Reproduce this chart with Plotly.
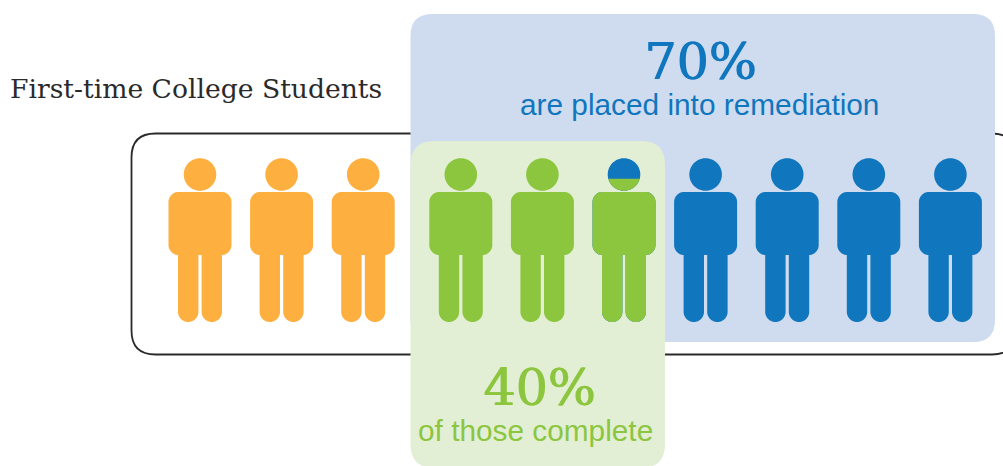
import numpy as np
import plotly.graph_objects as go

# Figures per group, left to right
group_names = ["not placed", "completed", "placed"]
group_counts = [3, 3, 4]
split_figure_green_height = 0.875  # share of the figure's height drawn green on the split person

headline_values = ["70%", "40%"]
headline_captions = ["are placed into remediation", "of those complete"]
title_text = "First-time College Students"

ORANGE = "#fdb03f"
GREEN = "#8cc63f"
BLUE = "#1076bd"
BLUE_PANEL = "#cfdcef"
GREEN_PANEL = "#e3efd4"
INK = "#2a2a2a"

# Figure geometry in page pixels
FIRST_X, STEP_X, GROUP_GAP = 200.0, 81.6, 16.0
HEAD_Y, HEAD_R = 174.5, 16.3
TORSO_HALF, TORSO_TOP, TORSO_BOTTOM, TORSO_R = 31.5, 192.0, 255.0, 10.0
LEG_OFFSET, LEG_HALF, LEG_BOTTOM = 11.8, 10.2, 322.0


def rounded_rect(x0, y0, x1, y1, r, n=24):
    """Closed outline of a rounded rectangle."""
    corners = [(x1 - r, y0 + r, -90), (x1 - r, y1 - r, 0), (x0 + r, y1 - r, 90), (x0 + r, y0 + r, 180)]
    xs, ys = [], []
    for cx, cy, start in corners:
        a = np.radians(np.linspace(start, start + 90, n))
        xs.extend(cx + r * np.cos(a))
        ys.extend(cy + r * np.sin(a))
    return xs + xs[:1], ys + ys[:1]


def circle(cx, cy, r, n=60):
    a = np.linspace(0, 2 * np.pi, n)
    return list(cx + r * np.cos(a)), list(cy + r * np.sin(a))


def circle_below(cx, cy, r, cut_y, n=40):
    """Part of a circle lying below the horizontal line at cut_y."""
    t = np.arcsin((cut_y - cy) / r)
    a = np.linspace(t, np.pi - t, n)
    xs, ys = list(cx + r * np.cos(a)), list(cy + r * np.sin(a))
    return xs + xs[:1], ys + ys[:1]


def body_parts(cx):
    parts = [rounded_rect(cx - TORSO_HALF, TORSO_TOP, cx + TORSO_HALF, TORSO_BOTTOM, TORSO_R)]
    for side in (-1, 1):
        lx = cx + side * LEG_OFFSET
        parts.append(rounded_rect(lx - LEG_HALF, TORSO_BOTTOM - 12, lx + LEG_HALF, LEG_BOTTOM, LEG_HALF - 0.01))
    return parts


def add_parts(fig, parts, color):
    xs, ys = [], []
    for px, py in parts:
        xs += list(px) + [None]
        ys += list(py) + [None]
    fig.add_trace(go.Scatter(x=xs, y=ys, mode="lines", fill="toself", fillcolor=color,
                             line=dict(width=0, color=color, simplify=False),
                             hoverinfo="skip", showlegend=False))


def panel_path(x0, y0, x1, y1, r):
    return (f"M{x0 + r},{y0} L{x1 - r},{y0} Q{x1},{y0} {x1},{y0 + r} L{x1},{y1 - r} Q{x1},{y1} {x1 - r},{y1} "
            f"L{x0 + r},{y1} Q{x0},{y1} {x0},{y1 - r} L{x0},{y0 + r} Q{x0},{y0} {x0 + r},{y0} Z")


centers = [FIRST_X + STEP_X * i + (GROUP_GAP if i >= group_counts[0] else 0.0) for i in range(sum(group_counts))]
orange_idx = range(0, group_counts[0])
green_idx = range(group_counts[0], group_counts[0] + group_counts[1])
blue_idx = range(group_counts[0] + group_counts[1], sum(group_counts))
split_idx = green_idx[-1]
split_y = LEG_BOTTOM - split_figure_green_height * (LEG_BOTTOM - (HEAD_Y - HEAD_R))

fig = go.Figure()

# Orange group
parts = []
for i in orange_idx:
    parts += [circle(centers[i], HEAD_Y, HEAD_R)] + body_parts(centers[i])
add_parts(fig, parts, ORANGE)

# Blue group, plus the split person underneath the green layer
parts = []
for i in list(blue_idx) + [split_idx]:
    parts += [circle(centers[i], HEAD_Y, HEAD_R)] + body_parts(centers[i])
add_parts(fig, parts, BLUE)

# Green group; the last head is green only below the split line
parts = []
for i in green_idx:
    if i == split_idx:
        parts.append(circle_below(centers[i], HEAD_Y, HEAD_R, split_y))
    else:
        parts.append(circle(centers[i], HEAD_Y, HEAD_R))
    parts += body_parts(centers[i])
add_parts(fig, parts, GREEN)

shapes = [
    dict(type="path", path=panel_path(131.5, 133.5, 1016, 354.5, 24), layer="below",
         line=dict(color=INK, width=1.8), fillcolor="rgba(0,0,0,0)"),
    dict(type="path", path=panel_path(410.5, 14, 995, 342, 22), layer="below",
         line=dict(width=0), fillcolor=BLUE_PANEL),
    dict(type="path", path=panel_path(410.5, 141, 665, 468, 24), layer="below",
         line=dict(width=0), fillcolor=GREEN_PANEL),
]

SLAB = "'DejaVu Serif', serif"
SANS = "'Liberation Sans', Arial, sans-serif"
annotations = [
    dict(x=7.5, y=88.5, text=title_text, xanchor="left", yanchor="middle", showarrow=False,
         font=dict(family=SLAB, size=26.6, color=INK)),
    dict(x=699.5, y=61.5, text=headline_values[0], xanchor="center", yanchor="middle", showarrow=False,
         font=dict(family=SLAB, size=50.5, color=BLUE, shadow=f"1.2px 0 0 {BLUE}")),
    dict(x=699.5, y=104.5, text=headline_captions[0], xanchor="center", yanchor="middle", showarrow=False,
         font=dict(family=SANS, size=29.8, color=BLUE)),
    dict(x=539, y=387.5, text=headline_values[1], xanchor="center", yanchor="middle", showarrow=False,
         font=dict(family=SLAB, size=50.5, color=GREEN, shadow=f"1.2px 0 0 {GREEN}")),
    dict(x=535, y=430.5, text=headline_captions[1], xanchor="center", yanchor="middle", showarrow=False,
         font=dict(family=SANS, size=29.8, color=GREEN)),
]

fig.update_layout(
    width=1003, height=466, margin=dict(l=0, r=0, t=0, b=0),
    paper_bgcolor="white", plot_bgcolor="white", showlegend=False,
    shapes=shapes, annotations=annotations,
    xaxis=dict(range=[0, 1003], visible=False, fixedrange=True),
    yaxis=dict(range=[466, 0], visible=False, fixedrange=True),
)
fig.write_html("out.html", config=dict(displayModeBar=False))
